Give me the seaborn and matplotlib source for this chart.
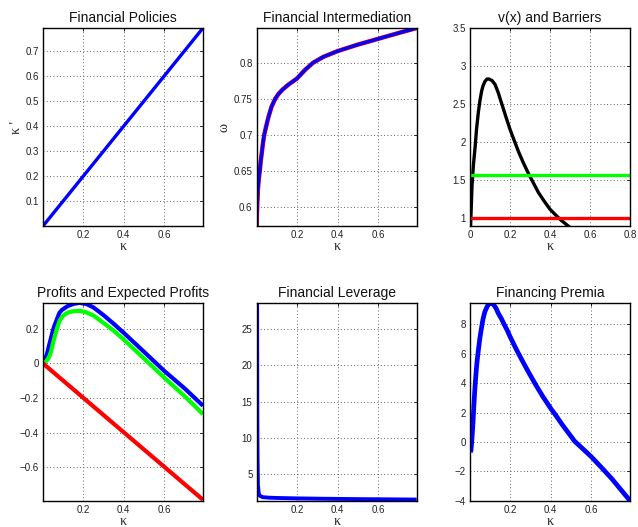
import matplotlib
matplotlib.use("Agg")
import matplotlib.pyplot as plt
from matplotlib.ticker import FixedLocator, FuncFormatter
import seaborn as sns

# ---------------- data ----------------
policy_k = [0.002, 0.79]
policy_kp = [0.002, 0.79]

omega_k = [0.002, 0.003, 0.005, 0.008, 0.013, 0.017, 0.022, 0.027, 0.033, 0.039, 0.047,
           0.06, 0.075, 0.093, 0.11, 0.13, 0.16, 0.2, 0.24, 0.28, 0.33, 0.4, 0.5, 0.6,
           0.7, 0.79]
omega = [0.574, 0.59, 0.605, 0.625, 0.641, 0.65, 0.664, 0.675, 0.689, 0.7, 0.71, 0.725,
         0.739, 0.75, 0.757, 0.763, 0.77, 0.778, 0.79, 0.8, 0.808, 0.816, 0.825, 0.833,
         0.841, 0.848]

v_k = [0.003, 0.01, 0.017, 0.025, 0.033, 0.042, 0.05, 0.058, 0.065, 0.075, 0.085, 0.095,
       0.11, 0.125, 0.14, 0.158, 0.18, 0.2, 0.22, 0.242, 0.265, 0.292, 0.32, 0.342, 0.37,
       0.4, 0.43, 0.458, 0.51]
v_x = [0.9, 1.43, 1.7, 1.92, 2.18, 2.40, 2.55, 2.67, 2.74, 2.80, 2.83, 2.83, 2.81, 2.76,
       2.66, 2.51, 2.33, 2.17, 2.03, 1.88, 1.74, 1.59, 1.45, 1.34, 1.23, 1.12, 1.04, 0.97,
       0.86]
barrier_k = [0.0, 0.8]
upper_barrier = [1.575, 1.575]
lower_barrier = [1.0, 1.0]

profit_k = [0.002, 0.01, 0.017, 0.025, 0.033, 0.042, 0.05, 0.058, 0.067, 0.075, 0.083,
            0.095, 0.108, 0.12, 0.133, 0.155, 0.183, 0.215, 0.25, 0.3, 0.35, 0.4, 0.5,
            0.6, 0.7, 0.79]
profits = [0.0, 0.015, 0.04, 0.07, 0.11, 0.15, 0.187, 0.218, 0.245, 0.27, 0.293, 0.31,
           0.32, 0.33, 0.337, 0.346, 0.351, 0.345, 0.325, 0.28, 0.23, 0.177, 0.067,
           -0.044, -0.145, -0.245]
expected_profits = [0.0, 0.004, 0.013, 0.024, 0.04, 0.07, 0.11, 0.15, 0.187, 0.218, 0.245,
                    0.268, 0.283, 0.292, 0.298, 0.303, 0.305, 0.296, 0.278, 0.235, 0.19,
                    0.138, 0.028, -0.083, -0.19, -0.294]
loss_k = [0.002, 0.79]
loss = [0.0, -0.79]

lev_k = [0.002, 0.003, 0.004, 0.006, 0.01, 0.015, 0.03, 0.06, 0.1, 0.2, 0.3, 0.5, 0.79]
leverage = [28.7, 14.0, 8.0, 3.5, 2.3, 1.95, 1.75, 1.68, 1.64, 1.58, 1.54, 1.48, 1.42]

prem_k = [0.004, 0.007, 0.012, 0.017, 0.02, 0.025, 0.029, 0.033, 0.037, 0.042, 0.05,
          0.058, 0.066, 0.075, 0.083, 0.09, 0.097, 0.105, 0.113, 0.12, 0.13, 0.142, 0.156,
          0.17, 0.185, 0.2, 0.23, 0.258, 0.29, 0.325, 0.36, 0.4, 0.43, 0.458, 0.49, 0.517,
          0.56, 0.6, 0.65, 0.7, 0.745, 0.79]
premia = [-0.7, -0.57, 0.3, 1.36, 2.2, 3.4, 4.2, 4.9, 5.5, 6.1, 7.0, 7.7, 8.35, 8.85, 9.1,
          9.3, 9.4, 9.45, 9.4, 9.3, 9.1, 8.73, 8.4, 8.0, 7.6, 7.14, 6.3, 5.56, 4.75, 3.9,
          3.1, 2.27, 1.7, 1.14, 0.55, 0.05, -0.5, -1.02, -1.75, -2.5, -3.25, -4.0]

titles = ["Financial Policies", "Financial Intermediation", "v(x) and Barriers",
          "Profits and Expected Profits", "Financial Leverage", "Financing Premia"]

# ---------------- style ----------------
sns.set_style("white")
plt.rcParams["font.family"] = ["Liberation Sans", "DejaVu Sans"]
plt.rcParams["axes.unicode_minus"] = True
plt.rcParams["lines.solid_joinstyle"] = "round"
plt.rcParams["lines.solid_capstyle"] = "butt"

W, H = 638, 527
fig = plt.figure(figsize=(W / 100, H / 100), dpi=100)

col_left = [43, 256.7, 470]
row_top = [28, 302.7]
aw, ah = 160, 198


def make_ax(r, c):
    l = col_left[c] / W
    b = 1 - (row_top[r] + ah) / H
    return fig.add_axes([l, b, aw / W, ah / H])


fmt = FuncFormatter(lambda v, p: ("%g" % round(v, 6)).replace("-", "\u2212"))


def style(ax, title, xticks, yticks, xlim, ylim, ylabel=None):
    ax.set_xlim(*xlim)
    ax.set_ylim(*ylim)
    ax.xaxis.set_major_locator(FixedLocator(xticks))
    ax.yaxis.set_major_locator(FixedLocator(yticks))
    ax.xaxis.set_major_formatter(fmt)
    ax.yaxis.set_major_formatter(fmt)
    ax.grid(True, linestyle=(0, (1, 3)), color="#333333", linewidth=0.6)
    ax.set_axisbelow(True)
    for s in ax.spines.values():
        s.set_color("black")
        s.set_linewidth(1.0)
        s.set_visible(True)
    ax.tick_params(direction="in", length=2.5, width=0.6, labelsize=7, pad=3,
                   top=True, right=True, colors="black", labelcolor="#222222")
    ax.set_title(title, fontsize=10, pad=4, color="#111111")
    ax.set_xlabel("\u03ba", fontsize=10, family="Liberation Serif", labelpad=0)
    if ylabel:
        ax.set_ylabel(ylabel, fontsize=10, family="Liberation Serif", labelpad=2)
    else:
        ax.set_ylabel("")


LW = 2.4
kx = [0.2, 0.4, 0.6]

# Panel 1
ax = make_ax(0, 0)
sns.lineplot(x=policy_k, y=policy_kp, color="#0000ff", lw=LW, ax=ax)
style(ax, titles[0], kx, [0.1, 0.2, 0.3, 0.4, 0.5, 0.6, 0.7], (0.002, 0.79), (0.002, 0.79),
      ylabel="\u03ba '")

# Panel 2
ax = make_ax(0, 1)
sns.lineplot(x=omega_k, y=omega, color="#ff0000", lw=LW + 0.8, ax=ax)
sns.lineplot(x=omega_k, y=omega, color="#0000ff", lw=LW, ax=ax)
style(ax, titles[1], kx, [0.6, 0.65, 0.7, 0.75, 0.8], (0.002, 0.79), (0.574, 0.848),
      ylabel="\u03c9")

# Panel 3
ax = make_ax(0, 2)
sns.lineplot(x=v_k, y=v_x, color="black", lw=LW, ax=ax)
sns.lineplot(x=barrier_k, y=upper_barrier, color="#00ff00", lw=LW, ax=ax)
sns.lineplot(x=barrier_k, y=lower_barrier, color="#ff0000", lw=LW, ax=ax)
style(ax, titles[2], [0, 0.2, 0.4, 0.6, 0.8], [1, 1.5, 2, 2.5, 3, 3.5], (0, 0.8), (0.9, 3.5))

# Panel 4
ax = make_ax(1, 0)
sns.lineplot(x=profit_k, y=profits, color="#0000ff", lw=LW + 0.6, ax=ax)
sns.lineplot(x=profit_k, y=expected_profits, color="#00ff00", lw=LW + 0.6, ax=ax)
sns.lineplot(x=loss_k, y=loss, color="#ff0000", lw=LW + 0.6, ax=ax)
style(ax, titles[3], kx, [-0.6, -0.4, -0.2, 0, 0.2], (0.002, 0.79), (-0.795, 0.352))

# Panel 5
ax = make_ax(1, 1)
sns.lineplot(x=lev_k, y=leverage, color="#0000ff", lw=LW + 0.4, ax=ax)
style(ax, titles[4], kx, [5, 10, 15, 20, 25], (0.0, 0.79), (1.26, 28.7))

# Panel 6
ax = make_ax(1, 2)
sns.lineplot(x=prem_k, y=premia, color="#0000ff", lw=LW + 1.0, ax=ax)
style(ax, titles[5], kx, [-4, -2, 0, 2, 4, 6, 8], (0.002, 0.79), (-4, 9.47))

fig.savefig("out.png", dpi=100)
